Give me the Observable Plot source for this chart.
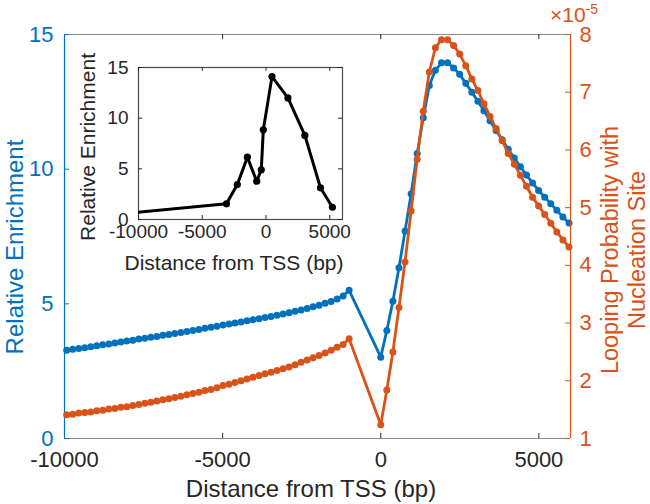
<!DOCTYPE html>
<html><head><meta charset="utf-8">
<script src="https://cdn.jsdelivr.net/npm/d3@7"></script>
<script src="https://cdn.jsdelivr.net/npm/@observablehq/plot@0.6"></script>
<style>
body{margin:0;background:#fff;}
#wrap{position:relative;width:650px;height:504px;overflow:hidden;}
#wrap svg{position:absolute;left:0;top:0;}
</style></head><body><div id="wrap"></div>
<script>
// ---- data ----
const xTicks = [-10000, -5000, 0, 5000];
const leftTicks = [0, 5, 10, 15];
const rightTicks = [1, 2, 3, 4, 5, 6, 7, 8];

const xLeft = [-9930, -9740, -9550, -9360, -9170, -8980, -8790, -8600, -8410, -8220,
  -8030, -7840, -7650, -7460, -7270, -7080, -6890, -6700, -6510, -6320,
  -6130, -5940, -5750, -5560, -5370, -5180, -4990, -4800, -4610, -4420,
  -4230, -4040, -3850, -3660, -3470, -3280, -3090, -2900, -2710, -2520,
  -2330, -2140, -1950, -1760, -1570, -1380, -1190, -1000];
const blueLeft = [3.28, 3.31, 3.34, 3.37, 3.41, 3.44, 3.48, 3.51, 3.55, 3.58,
  3.62, 3.65, 3.69, 3.72, 3.76, 3.79, 3.83, 3.86, 3.90, 3.94,
  3.97, 4.01, 4.05, 4.09, 4.13, 4.17, 4.21, 4.25, 4.29, 4.33,
  4.37, 4.41, 4.45, 4.49, 4.53, 4.58, 4.62, 4.67, 4.72, 4.77,
  4.83, 4.89, 4.95, 5.02, 5.09, 5.18, 5.29, 5.50];
const orangeLeft = [1.41, 1.42, 1.44, 1.45, 1.46, 1.48, 1.49, 1.51, 1.52, 1.54,
  1.55, 1.57, 1.59, 1.61, 1.63, 1.65, 1.67, 1.69, 1.71, 1.73,
  1.76, 1.78, 1.80, 1.83, 1.85, 1.88, 1.92, 1.94, 1.97, 2.00,
  2.03, 2.06, 2.09, 2.12, 2.15, 2.18, 2.21, 2.24, 2.28, 2.32,
  2.36, 2.40, 2.44, 2.48, 2.53, 2.58, 2.63, 2.73];

const xRight = [0, 192, 384, 576, 768, 960, 1152, 1344, 1536, 1728,
  1920, 2112, 2304, 2496, 2688, 2880, 3072, 3264, 3456, 3648,
  3840, 4032, 4224, 4416, 4608, 4800, 4992, 5184, 5376, 5568, 5760, 5952];
const blueRight = [3.02, 4.01, 5.10, 6.34, 7.70, 9.09, 10.58, 11.91, 13.11, 13.67,
  13.95, 13.95, 13.76, 13.52, 13.19, 12.86, 12.52, 12.17, 11.80, 11.44,
  11.09, 10.74, 10.41, 10.09, 9.78, 9.49, 9.21, 8.96, 8.72, 8.47, 8.22, 8.00];
const orangeRight = [1.24, 1.84, 2.50, 3.27, 4.06, 4.94, 5.84, 6.67, 7.35, 7.77,
  7.91, 7.91, 7.81, 7.66, 7.46, 7.23, 7.03, 6.80, 6.58, 6.37,
  6.16, 5.94, 5.75, 5.56, 5.37, 5.18, 5.03, 4.88, 4.73, 4.58, 4.44, 4.32];

// inset (first point lies left of the visible range and is clipped)
const insetX = [-12000, -3100, -2250, -1460, -730, -370, -210, 470, 1720, 3050, 4270, 5210];
const insetY = [0.48, 1.55, 3.45, 6.15, 3.78, 4.90, 8.85, 14.10, 12.00, 8.30, 3.13, 1.21];

// ---- build ----
const BLUE = "#0072BD", ORANGE = "#D95319", DARK = "#262626";
const FONT = "'Liberation Sans', Helvetica, Arial, sans-serif";
const W = 650, H = 504;
const M = {marginLeft: 64, marginRight: 80, marginTop: 34, marginBottom: 66};
const frameW = W - M.marginLeft - M.marginRight, frameH = H - M.marginTop - M.marginBottom;

const blueData = xLeft.map((x, i) => ({x, v: blueLeft[i]}))
  .concat(xRight.map((x, i) => ({x, v: blueRight[i]})));
const orangeData = xLeft.map((x, i) => ({x, v: orangeLeft[i]}))
  .concat(xRight.map((x, i) => ({x, v: orangeRight[i]})));
const insetData = insetX.map((x, i) => ({x, v: insetY[i]}));

const style = {fontFamily: FONT, background: "transparent", overflow: "visible"};
const tk = 5;
const fmt = d => String(d);

const p1 = Plot.plot({
  width: W, height: H, ...M, style,
  x: {domain: [-10000, 6000]},
  y: {domain: [0, 15]},
  marks: [
    Plot.ruleY([15], {stroke: "#8a8a8a", strokeWidth: 1.2}),
    Plot.ruleY([0], {stroke: "#8a8a8a", strokeWidth: 1.2}),
    Plot.tickX(xTicks, {stroke: DARK, insetTop: frameH - tk}),
    Plot.tickX(xTicks, {stroke: DARK, insetBottom: frameH - tk}),
    Plot.axisX({ticks: xTicks, tickSize: 0, tickPadding: 13, fontSize: 22, fill: DARK,
      tickFormat: fmt, label: null}),
    Plot.ruleX([-10000], {stroke: BLUE, strokeWidth: 1.2}),
    Plot.tickY(leftTicks, {stroke: BLUE, insetRight: frameW - tk}),
    Plot.axisY({ticks: leftTicks, tickSize: 0, tickPadding: 11, fontSize: 22, fill: BLUE,
      tickFormat: fmt, label: null}),
    Plot.line(blueData, {x: "x", y: "v", stroke: BLUE, strokeWidth: 2.8}),
    Plot.dot(blueData, {x: "x", y: "v", r: 3.5, fill: BLUE})
  ]
});

const p2 = Plot.plot({
  width: W, height: H, ...M, style,
  x: {domain: [-10000, 6000], axis: null},
  y: {domain: [1, 8]},
  marks: [
    Plot.ruleX([6000], {stroke: ORANGE, strokeWidth: 1.2}),
    Plot.tickY(rightTicks, {stroke: ORANGE, insetLeft: frameW - tk}),
    Plot.axisY({anchor: "right", ticks: rightTicks, tickSize: 0, tickPadding: 9, fontSize: 22, fill: ORANGE,
      tickFormat: fmt, label: null}),
    Plot.line(orangeData, {x: "x", y: "v", stroke: ORANGE, strokeWidth: 2.8}),
    Plot.dot(orangeData, {x: "x", y: "v", r: 3.5, fill: ORANGE})
  ]
});

const IM = {marginLeft: 138, marginRight: W - 342, marginTop: 67, marginBottom: H - 219};
const iW = W - IM.marginLeft - IM.marginRight, iH = H - IM.marginTop - IM.marginBottom;
const itk = 4;
const p3 = Plot.plot({
  width: W, height: H, ...IM, style,
  x: {domain: [-10000, 6000]},
  y: {domain: [0, 15]},
  marks: [
    Plot.frame({fill: "white", stroke: "#4a4a4a", strokeWidth: 1.2}),
    Plot.tickX(xTicks, {stroke: DARK, insetTop: iH - itk}),
    Plot.tickX(xTicks, {stroke: DARK, insetBottom: iH - itk}),
    Plot.tickY(leftTicks, {stroke: DARK, insetRight: iW - itk}),
    Plot.tickY(leftTicks, {stroke: DARK, insetLeft: iW - itk}),
    Plot.axisX({ticks: xTicks, tickSize: 0, tickPadding: 5, fontSize: 19, fill: DARK,
      tickFormat: fmt, label: null}),
    Plot.axisY({ticks: leftTicks, tickSize: 0, tickPadding: 10, fontSize: 19, fill: DARK,
      tickFormat: fmt, label: null}),
    Plot.line(insetData, {x: "x", y: "v", stroke: "black", strokeWidth: 3, clip: true}),
    Plot.dot(insetData, {x: "x", y: "v", r: 3.6, fill: "black", clip: true})
  ]
});

const wrap = document.getElementById("wrap");
wrap.append(p1, p2, p3);

// ---- text labels ----
function label(svg, txt, x, y, opts) {
  const t = d3.select(svg).append("text")
    .attr("font-family", FONT).attr("font-size", opts.size)
    .attr("fill", opts.fill).attr("text-anchor", opts.anchor || "middle")
    .attr("transform", `translate(${x},${y}) rotate(${opts.rotate || 0})`)
    .text(txt);
  if (opts.central) t.attr("dominant-baseline", "central");
  return t;
}
label(p1, "Distance from TSS (bp)", 311, 497, {size: 24, fill: DARK});
label(p1, "Relative Enrichment", 14, 247, {size: 24, fill: BLUE, rotate: -90, central: true});
label(p2, "Looping Probability with", 610, 250, {size: 23.5, fill: ORANGE, rotate: -90, central: true});
label(p2, "Nucleation Site", 637, 250, {size: 23.5, fill: ORANGE, rotate: -90, central: true});
const ex = d3.select(p2).append("text").attr("font-family", FONT).attr("fill", ORANGE)
  .attr("x", 574).attr("y", 22).attr("font-size", 21);
ex.append("tspan").text("×10");
ex.append("tspan").attr("font-size", 14).attr("dy", -8).text("-5");
label(p3, "Distance from TSS (bp)", 234, 270, {size: 21, fill: DARK});
label(p3, "Relative Enrichment", 87, 147, {size: 21, fill: DARK, rotate: -90, central: true});
</script></body></html>
